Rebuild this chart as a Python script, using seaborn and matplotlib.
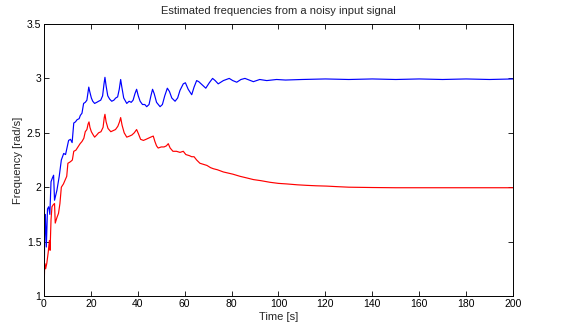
import numpy as np
import pandas as pd
import matplotlib
matplotlib.use("Agg")
import matplotlib.pyplot as plt
import seaborn as sns

# Estimated frequency 1 (blue, converges to 3 rad/s)
t_blue = [0, 0.3, 0.6, 1.0, 1.5, 2.0, 2.5, 3.0, 3.5, 4.1, 4.5, 5.5, 6.5, 7.4, 8.4, 9.2, 9.8,
          10.5, 11.3, 12.0, 12.7, 13.4, 14.1, 15.0, 15.5, 16.2, 16.9, 17.6, 18.3, 18.7, 19.1,
          19.5, 20.2, 20.8, 21.6, 22.5, 23.3, 24.2, 25.0, 25.6, 26.0, 26.5, 27.2, 28.0, 28.9,
          29.8, 30.6, 31.4, 32.1, 32.7, 33.2, 34.0, 35.3, 36.3, 37.2, 38.0, 38.8, 39.5, 40.2,
          41.0, 42.0, 43.0, 43.8, 44.8, 45.6, 46.3, 47.0, 48.0, 49.5, 50.5, 51.5, 52.6, 53.5,
          54.5, 55.9, 57.0, 58.0, 59.4, 60.3, 61.5, 63.0, 64.0, 65.1, 66.0, 67.5, 69.0, 70.5,
          71.9, 73.0, 74.3, 76.5, 79.0, 80.5, 82.2, 84.0, 85.7, 87.5, 89.3, 92.0, 95.0, 99.2,
          103, 110, 120, 130, 140, 150, 160, 170, 180, 190, 200]
f_blue = [1.0, 1.55, 1.75, 1.45, 1.8, 1.82, 1.75, 2.05, 2.08, 2.11, 1.88, 1.97, 2.1, 2.25, 2.31,
          2.3, 2.36, 2.43, 2.44, 2.41, 2.59, 2.6, 2.62, 2.63, 2.66, 2.68, 2.77, 2.78, 2.80, 2.86,
          2.92, 2.88, 2.82, 2.79, 2.77, 2.78, 2.79, 2.80, 2.84, 2.95, 3.01, 2.93, 2.84, 2.81,
          2.79, 2.80, 2.82, 2.83, 2.9, 2.99, 2.92, 2.82, 2.77, 2.79, 2.78, 2.80, 2.86, 2.90,
          2.84, 2.79, 2.76, 2.76, 2.74, 2.76, 2.84, 2.90, 2.86, 2.78, 2.74, 2.76, 2.84, 2.91,
          2.88, 2.82, 2.79, 2.82, 2.89, 2.95, 2.96, 2.90, 2.85, 2.92, 2.98, 2.97, 2.94, 2.91,
          2.96, 3.0, 2.98, 2.95, 2.98, 3.0, 2.98, 2.965, 2.99, 3.0, 2.985, 2.97, 2.99, 2.98,
          2.99, 2.985, 2.99, 2.995, 2.99, 2.995, 2.99, 2.995, 2.99, 2.995, 2.99, 2.995]

# Estimated frequency 2 (red, converges to 2 rad/s)
t_red = [0, 0.3, 0.7, 1.2, 1.8, 2.3, 2.6, 3.0, 3.4, 4.0, 4.5, 4.8, 5.5, 6.2, 6.8, 7.4, 8.3,
         9.1, 9.7, 10.2, 11.0, 11.6, 12.1, 12.7, 13.6, 14.5, 15.4, 16.2, 17.0, 17.6, 18.3,
         18.8, 19.2, 19.6, 20.2, 21.0, 21.6, 22.5, 23.3, 24.3, 25.2, 25.7, 26.0, 26.5, 27.3,
         28.5, 29.5, 30.5, 31.5, 32.2, 32.7, 33.3, 34.2, 35.3, 36.5, 37.5, 38.5, 39.5, 40.3,
         41.2, 42.4, 43.5, 44.5, 45.5, 46.6, 47.3, 48.0, 48.7, 50.0, 51.2, 52.2, 53.0, 53.8,
         55.0, 56.5, 58.0, 59.4, 60.5, 62.0, 63.0, 64.0, 65.1, 66.5, 68.0, 69.5, 71.0, 72.2,
         74.0, 76.5, 78.5, 80.5, 83.6, 86.5, 89.3, 92.5, 96.4, 100, 103.5, 108, 112, 116,
         120.6, 125, 130, 140, 150, 160, 170, 180, 190, 200]
f_red = [1.0, 1.3, 1.25, 1.3, 1.4, 1.51, 1.42, 1.7, 1.82, 1.84, 1.85, 1.67, 1.72, 1.76, 1.85,
         2.0, 2.03, 2.07, 2.1, 2.22, 2.23, 2.24, 2.25, 2.33, 2.34, 2.37, 2.40, 2.42, 2.45, 2.51,
         2.53, 2.58, 2.60, 2.55, 2.51, 2.48, 2.46, 2.48, 2.50, 2.51, 2.55, 2.64, 2.67, 2.60,
         2.54, 2.51, 2.52, 2.53, 2.56, 2.60, 2.64, 2.57, 2.50, 2.46, 2.47, 2.48, 2.50, 2.53,
         2.49, 2.44, 2.43, 2.44, 2.45, 2.46, 2.47, 2.42, 2.38, 2.36, 2.37, 2.37, 2.38, 2.40,
         2.36, 2.33, 2.33, 2.32, 2.33, 2.30, 2.29, 2.28, 2.28, 2.25, 2.22, 2.21, 2.2, 2.18,
         2.17, 2.16, 2.14, 2.13, 2.12, 2.10, 2.085, 2.07, 2.06, 2.045, 2.035, 2.03, 2.022,
         2.017, 2.013, 2.01, 2.005, 2.0, 1.997, 1.995, 1.995, 1.995, 1.995, 1.995, 1.995]

x_ticks = [0, 20, 40, 60, 80, 100, 120, 140, 160, 180, 200]
y_ticks = [1, 1.5, 2, 2.5, 3, 3.5]
y_tick_labels = ["1", "1.5", "2", "2.5", "3", "3.5"]

blue_df = pd.DataFrame({"t": t_blue, "f": f_blue})
red_df = pd.DataFrame({"t": t_red, "f": f_red})

sns.set_style("ticks")
plt.rcParams["font.family"] = ["Liberation Sans", "DejaVu Sans"]
plt.rcParams["xtick.direction"] = "in"
plt.rcParams["ytick.direction"] = "in"

fig = plt.figure(figsize=(5.61, 3.28), dpi=100)
ax = fig.add_axes([0.0784, 0.0976, 0.836, 0.8292])

sns.lineplot(data=blue_df, x="t", y="f", color="#0000ff", lw=0.85, estimator=None, sort=False, ax=ax)
sns.lineplot(data=red_df, x="t", y="f", color="#ff0000", lw=0.85, estimator=None, sort=False, ax=ax)

ax.set_xlim(0, 200)
ax.set_ylim(1, 3.5)
ax.set_xticks(x_ticks)
ax.set_yticks(y_ticks)
ax.set_yticklabels(y_tick_labels)
ax.tick_params(axis="both", labelsize=7.5, length=3.5, width=0.6, colors="black",
               top=True, right=True, pad=2)
for s in ax.spines.values():
    s.set_linewidth(0.7)
    s.set_color("black")

ax.set_title("Estimated frequencies from a noisy input signal", fontsize=8, pad=7)
ax.set_xlabel("Time [s]", fontsize=8, labelpad=2)
ax.set_ylabel("Frequency [rad/s]", fontsize=8, labelpad=3)

fig.savefig("out.png", dpi=100)
